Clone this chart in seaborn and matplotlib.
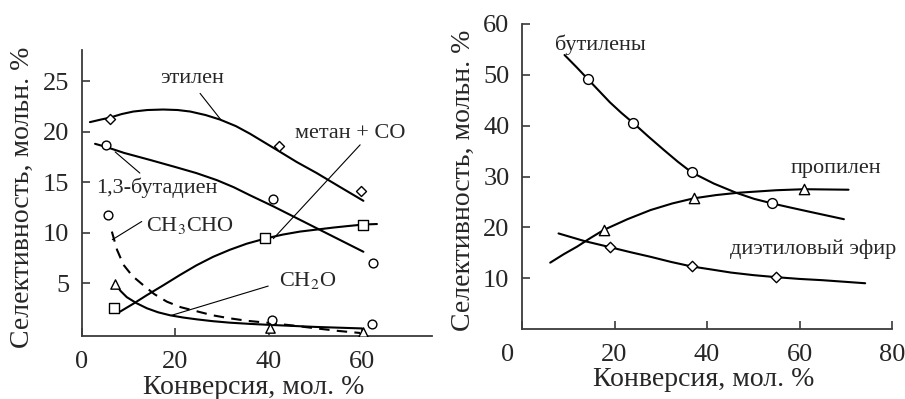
import matplotlib
matplotlib.use("Agg")
import matplotlib.pyplot as plt
from matplotlib.transforms import ScaledTranslation
import seaborn as sns

# ---- left panel: markers ----
eth_x = [6.0, 42.3, 59.8]
eth_y = [21.3, 18.6, 14.1]
but_x = [5.1, 40.9, 62.4]
but_y = [18.7, 13.3, 6.95]
met_x = [6.9, 39.2, 60.3]
met_y = [2.5, 9.5, 10.8]
ald_x = [5.6, 40.7, 62.1]
ald_y = [11.7, 1.3, 0.95]
frm_x = [7.1, 40.3, 60.2]
frm_y = [4.9, 0.5, 0.15]

# ---- left panel: curves ----
eth_cx = [1.7, 4.0, 6.0, 8.5, 11.0, 14.0, 17.4, 20.5, 23.2, 26.5, 29.6, 33.0, 36.0, 42.1, 46.0, 50.3, 55.0, 60.3]
eth_cy = [20.95, 21.2, 21.4, 21.75, 22.0, 22.15, 22.2, 22.15, 22.0, 21.65, 21.2, 20.55, 19.8, 18.1, 17.0, 15.9, 14.6, 13.15]
but_cx = [2.8, 5.1, 9.0, 14.6, 20.0, 24.5, 28.9, 32.5, 36.0, 41.0, 50.0, 60.3]
but_cy = [18.8, 18.5, 17.9, 17.2, 16.5, 15.9, 15.2, 14.5, 13.7, 12.6, 10.5, 8.1]
met_cx = [8.1, 11.0, 13.9, 17.5, 21.0, 24.5, 28.1, 31.7, 35.3, 39.2, 43.0, 46.7, 50.3, 53.9, 57.0, 60.3, 63.2]
met_cy = [2.15, 2.95, 3.8, 4.8, 5.8, 6.75, 7.6, 8.3, 8.9, 9.4, 9.8, 10.1, 10.3, 10.5, 10.65, 10.8, 10.85]
ald_cx = [6.4, 7.5, 8.9, 10.8, 13.1, 15.5, 18.2, 21.2, 24.6, 28.0, 31.7, 35.5, 39.6, 45.0, 50.3, 55.0, 59.6]
ald_cy = [10.1, 8.3, 6.8, 5.7, 4.8, 3.9, 3.15, 2.6, 2.2, 1.8, 1.5, 1.25, 1.07, 0.8, 0.5, 0.25, 0.05]
frm_cx = [7.1, 8.3, 9.6, 11.7, 13.9, 16.3, 18.9, 21.7, 24.6, 28.0, 31.7, 36.0, 40.3, 50.0, 60.0]
frm_cy = [4.9, 4.2, 3.6, 3.0, 2.5, 2.1, 1.8, 1.58, 1.4, 1.22, 1.07, 0.95, 0.85, 0.65, 0.5]

# ---- right panel: markers ----
bul_x = [14.3, 24.1, 36.7, 54.1]
bul_y = [49.1, 40.5, 30.8, 24.7]
pro_x = [17.7, 37.1, 61.0]
pro_y = [19.5, 25.7, 27.6]
dee_x = [19.0, 36.7, 54.9]
dee_y = [16.1, 12.3, 10.2]

# ---- right panel: curves ----
bul_cx = [9.2, 11.8, 14.3, 16.7, 19.0, 21.5, 24.1, 27.4, 30.7, 33.7, 36.7, 41.5, 46.3, 50.2, 54.1, 58.0, 62.0, 65.8, 69.6]
bul_cy = [53.9, 51.5, 49.1, 46.8, 44.6, 42.5, 40.5, 37.8, 35.2, 32.9, 30.8, 28.6, 26.8, 25.6, 24.7, 23.9, 23.1, 22.35, 21.6]
pro_cx = [6.1, 9.0, 11.9, 14.8, 17.7, 22.8, 27.8, 32.5, 37.1, 42.0, 46.7, 55.0, 61.0, 70.6]
pro_cy = [13.05, 14.7, 16.2, 17.9, 19.5, 21.6, 23.4, 24.7, 25.7, 26.35, 26.8, 27.3, 27.5, 27.4]
dee_cx = [7.9, 13.5, 19.0, 23.5, 27.8, 32.2, 36.7, 41.0, 45.2, 50.0, 54.9, 60.0, 65.0, 74.2]
dee_cy = [18.8, 17.3, 16.1, 15.1, 14.2, 13.2, 12.3, 11.7, 11.1, 10.6, 10.2, 9.85, 9.6, 9.0]

left_xticks = [0, 20, 40, 60]
left_yticks = [5, 10, 15, 20, 25]
right_xticks = [0, 20, 40, 60, 80]
right_yticks = [10, 20, 30, 40, 50, 60]

sns.set_style("ticks")
plt.rcParams["font.family"] = ["Liberation Serif", "DejaVu Serif"]
plt.rcParams["mathtext.fontset"] = "stix"

spine_col = "#3a3a3a"
fig = plt.figure(figsize=(9.05, 3.99), dpi=100)
axL = fig.add_axes([82 / 905, 63 / 399, 350 / 905, 286 / 399])
axR = fig.add_axes([522 / 905, 70 / 399, 370 / 905, 305 / 399])


def curve(ax, x, y, dashed=False):
    sns.lineplot(x=x, y=y, ax=ax, color="k", lw=1.5, sort=False, estimator=None)
    if dashed:
        ax.lines[-1].set_dashes([5, 3.5])


def marks(ax, x, y, m, s):
    sns.scatterplot(x=x, y=y, ax=ax, marker=m, s=s, color="white",
                    edgecolor="k", linewidth=1.0, zorder=3)


def leader(ax, p0, p1):
    ax.annotate("", xy=p1, xytext=p0,
                arrowprops=dict(arrowstyle="-", lw=0.8, color="k",
                                shrinkA=0, shrinkB=0))


# left panel
curve(axL, eth_cx, eth_cy)
curve(axL, but_cx, but_cy)
curve(axL, met_cx, met_cy)
curve(axL, ald_cx, ald_cy, dashed=True)
curve(axL, frm_cx, frm_cy)
marks(axL, eth_x, eth_y, "D", 26)
marks(axL, but_x, but_y, "o", 40)
marks(axL, met_x, met_y, "s", 42)
marks(axL, ald_x, ald_y, "o", 40)
marks(axL, frm_x, frm_y, "^", 45)

ann = 16
axL.text(23.5, 25.3, "этилен", fontsize=ann, ha="center", va="center")
leader(axL, (25.3, 23.8), (29.9, 21.1))
axL.text(57.4, 19.8, "метан + CO", fontsize=ann, ha="center", va="center")
leader(axL, (59.6, 18.7), (41.0, 9.4))
axL.text(16.0, 14.4, "1,3-бутадиен", fontsize=ann, ha="center", va="center")
leader(axL, (12.4, 15.9), (7.1, 18.0))
axL.text(23.2, 10.7, r"CH$_3$CHO", fontsize=ann, ha="center", va="center")
leader(axL, (12.8, 11.1), (6.5, 9.3))
axL.text(48.3, 5.3, r"CH$_2$O", fontsize=ann, ha="center", va="center")
leader(axL, (39.9, 4.7), (19.2, 1.8))

axL.set_xlim(0, 75)
axL.set_ylim(-0.25, 28.1)
axL.set_xticks(left_xticks)
axL.set_yticks(left_yticks)

# right panel
curve(axR, bul_cx, bul_cy)
curve(axR, pro_cx, pro_cy)
curve(axR, dee_cx, dee_cy)
marks(axR, bul_x, bul_y, "o", 50)
marks(axR, pro_x, pro_y, "^", 55)
marks(axR, dee_x, dee_y, "D", 28)

axR.text(17.0, 55.9, "бутилены", fontsize=ann, ha="center", va="center")
axR.text(67.8, 31.6, "пропилен", fontsize=ann, ha="center", va="center")
axR.text(63.0, 15.6, "диэтиловый эфир", fontsize=ann, ha="center", va="center")

axR.set_xlim(0, 80)
axR.set_ylim(0, 60)
axR.set_xticks(right_xticks)
axR.set_yticks(right_yticks)

for ax in (axL, axR):
    sns.despine(ax=ax)
    for sp in ("left", "bottom"):
        ax.spines[sp].set_color(spine_col)
        ax.spines[sp].set_linewidth(1.3)
    ax.tick_params(direction="in", length=6, width=1.2, color=spine_col,
                   labelsize=19, pad=9)
    ax.tick_params(axis="x", pad=11)
    ax.set_xlabel("")
    ax.set_ylabel("")

# shift the "0" label of the right panel to the left as in the reference
lab0 = axR.get_xticklabels()[0]
lab0.set_transform(lab0.get_transform() + ScaledTranslation(-0.14, 0, fig.dpi_scale_trans))

fig.text(254 / 905, 1 - 388 / 399, "Конверсия, мол. %", fontsize=20, ha="center", va="center")
fig.text(704 / 905, 1 - 380 / 399, "Конверсия, мол. %", fontsize=20, ha="center", va="center")
fig.text(22 / 905, 1 - 197 / 399, "Селективность, мольн. %", fontsize=20,
         rotation=90, ha="center", va="center")
fig.text(463 / 905, 1 - 180 / 399, "Селективность, мольн. %", fontsize=20,
         rotation=90, ha="center", va="center")

fig.savefig("out.png", dpi=100, facecolor="white")
